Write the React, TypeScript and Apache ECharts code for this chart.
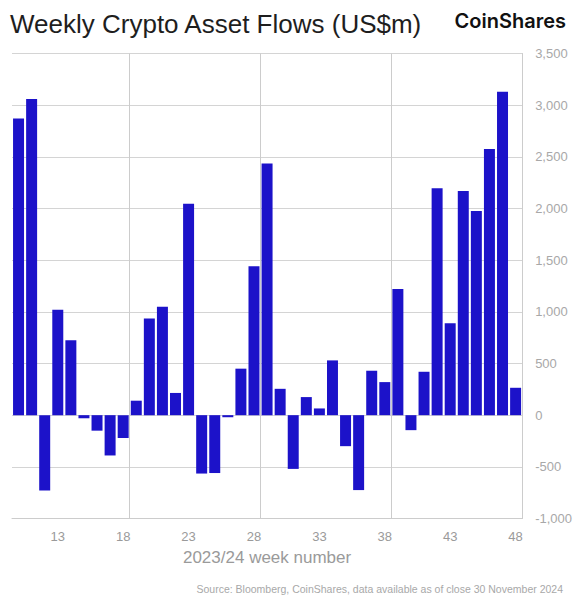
import React, { useEffect, useRef } from "react";
import * as echarts from "echarts";

const TITLE = "Weekly Crypto Asset Flows (US$m)";
const BRAND = "CoinShares";
const X_NAME = "2023/24 week number";
const SOURCE = "Source: Bloomberg, CoinShares, data available as of close 30 November 2024";

const weeks = [
  "10", "11", "12", "13", "14", "15", "16", "17", "18", "19",
  "20", "21", "22", "23", "24", "25", "26", "27", "28", "29",
  "30", "31", "32", "33", "34", "35", "36", "37", "38", "39",
  "40", "41", "42", "43", "44", "45", "46", "47", "48",
];

const flows = [
  2870, 3060, -730, 1020, 725, -30, -150, -390, -220, 140,
  935, 1050, 215, 2045, -565, -560, -20, 450, 1440, 2435,
  255, -520, 175, 65, 530, -300, -725, 430, 320, 1220,
  -145, 420, 2195, 890, 2170, 1975, 2575, 3130, 265,
];

const labelWeeks = ["13", "18", "23", "28", "33", "38", "43", "48"];
const gridWeeks = ["19", "29", "39"];

const Y_MIN = -1000;
const Y_MAX = 3500;
const Y_STEP = 500;

const FONT = "'Liberation Sans', Arial, sans-serif";

export default function App() {
  const ref = useRef<HTMLDivElement>(null);

  useEffect(() => {
    document.body.style.margin = "0";
    if (!ref.current) return;
    const chart = echarts.init(ref.current, null, { renderer: "svg" });
    chart.setOption({
      animation: false,
      backgroundColor: "#ffffff",
      textStyle: { fontFamily: FONT },
      title: {
        text: TITLE,
        left: 10,
        top: 11,
        padding: 0,
        textStyle: {
          fontSize: 26,
          fontWeight: "normal",
          color: "#1e1e1e",
          fontFamily: FONT,
        },
      },
      graphic: [
        {
          type: "text",
          right: 9,
          top: 11,
          style: {
            text: BRAND,
            fontSize: 20,
            fontWeight: 600,
            fontFamily: "Inter, 'Liberation Sans', sans-serif",
            fill: "#111111",
          },
        },
        {
          type: "text",
          x: 563,
          y: 589,
          style: {
            text: SOURCE,
            fontSize: 10.5,
            fontFamily: FONT,
            fill: "#a8a8a8",
            align: "right",
            verticalAlign: "middle",
          },
        },
      ],
      grid: {
        left: 12,
        right: 52,
        top: 53.5,
        bottom: 81.5,
        containLabel: false,
      },
      xAxis: {
        type: "category",
        data: weeks,
        boundaryGap: true,
        name: X_NAME,
        nameLocation: "middle",
        nameGap: 30,
        nameTextStyle: { fontSize: 17, color: "#9a9a9a", fontFamily: FONT },
        axisLine: { show: true, onZero: false, lineStyle: { color: "#cccccc", width: 1 } },
        axisTick: { show: false },
        axisLabel: {
          interval: (_i: number, v: string) => labelWeeks.includes(v),
          color: "#9a9a9a",
          fontSize: 13,
          margin: 11,
          fontFamily: FONT,
        },
        splitLine: {
          show: true,
          interval: (_i: number, v: string) => gridWeeks.includes(v),
          lineStyle: { color: "#cccccc", width: 1 },
        },
      },
      yAxis: {
        type: "value",
        position: "right",
        min: Y_MIN,
        max: Y_MAX,
        interval: Y_STEP,
        axisLine: { show: true, lineStyle: { color: "#cccccc", width: 1 } },
        axisTick: { show: false },
        axisLabel: {
          color: "#a8a8a8",
          fontSize: 13,
          margin: 13,
          fontFamily: FONT,
          formatter: (v: number) => v.toLocaleString("en-US"),
        },
        splitLine: { show: true, lineStyle: { color: "#d4d4d4", width: 1 } },
      },
      series: [
        {
          type: "bar",
          data: flows,
          barCategoryGap: "16%",
          itemStyle: { color: "#1c12c9" },
        },
      ],
    });
    return () => chart.dispose();
  }, []);

  return <div ref={ref} style={{ width: 575, height: 600 }} />;
}
